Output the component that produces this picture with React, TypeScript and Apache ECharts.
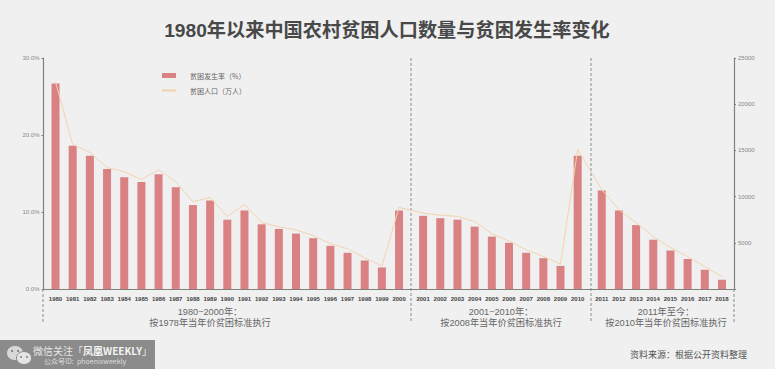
import React, { useEffect, useRef } from "react";
import * as echarts from "echarts";

const years = [
  "1980","1981","1982","1983","1984","1985","1986","1987","1988","1989","1990",
  "1991","1992","1993","1994","1995","1996","1997","1998","1999","2000",
  "2001","2002","2003","2004","2005","2006","2007","2008","2009","2010",
  "2011","2012","2013","2014","2015","2016","2017","2018",
];
const rate = [
  26.7,18.6,17.3,15.6,14.5,13.9,14.9,13.2,10.9,11.5,9.0,
  10.2,8.4,7.8,7.2,6.6,5.6,4.7,3.7,2.8,10.2,
  9.5,9.2,9.0,8.1,6.8,6.0,4.7,4.0,3.0,17.3,
  12.8,10.2,8.3,6.4,5.0,3.9,2.5,1.2,
];
const people = [
  22400,15650,14780,13150,12700,11850,12900,11600,9450,9900,7850,
  9150,7200,6730,6400,5800,4900,4350,3370,2500,8830,
  8200,8000,7850,7300,5980,5200,4250,3520,2700,15100,
  10760,8590,7170,5680,4490,3510,2420,1340,
];
const rateName = "贫困发生率（%）";
const peopleName = "贫困人口（万人）";
const titleText = "1980年以来中国农村贫困人口数量与贫困发生率变化";
const periods = [
  { a: "1980−2000年：", b: "按1978年当年价贫困标准执行", x: 210 },
  { a: "2001−2010年：", b: "按2008年当年价贫困标准执行", x: 501 },
  { a: "2011年至今：", b: "按2010年当年价贫困标准执行", x: 666 },
];

// The axis is divided into fine slots so the two period breaks get a wider step.
const slotsPerYear = 5;
const slotsAtBreak = 7;
const edgeSlots = 3;
const slotOf = years.map((_, i) => {
  const extra = (i > 20 ? 1 : 0) + (i > 30 ? 1 : 0);
  return edgeSlots + i * slotsPerYear + extra * (slotsAtBreak - slotsPerYear);
});
const slotCount = slotOf[slotOf.length - 1] + edgeSlots + 1;
function spread(values: (string | number)[], empty: any) {
  const out = new Array(slotCount).fill(empty);
  values.forEach((v, i) => (out[slotOf[i]] = v));
  return out;
}

const L = 43.5, R = 734, T = 58, B = 289;
const dash = (x: number, y1: number, y2: number) => ({
  type: "line",
  silent: true,
  shape: { x1: x, y1, x2: x, y2 },
  style: { stroke: "#8c8c8c", lineWidth: 1, lineDash: [3, 2] },
});

export default function App() {
  const ref = useRef<HTMLDivElement>(null);
  useEffect(() => {
    document.body.style.margin = "0";
    const chart = echarts.init(ref.current!, undefined, { renderer: "svg" });
    const cjk = '"Noto Sans CJK SC", sans-serif';
    const mixed = '"Liberation Sans", "Noto Sans CJK SC", sans-serif';
    chart.setOption({
      animation: false,
      backgroundColor: "#f0f0f0",
      grid: { left: L, right: 775 - R, top: T, bottom: 369 - B },
      legend: {
        orient: "vertical",
        left: 161,
        top: 72,
        padding: 0,
        itemWidth: 14,
        itemHeight: 5,
        itemGap: 8,
        textStyle: { fontSize: 7, color: "#666", fontFamily: cjk, padding: [0, 0, 0, 9] },
        data: [
          { name: rateName, icon: "rect" },
          { name: peopleName, itemStyle: { opacity: 0 } },
        ],
      },
      xAxis: {
        type: "category",
        data: spread(years, ""),
        axisTick: { show: false },
        axisLine: { lineStyle: { color: "#808080", width: 1 } },
        axisLabel: {
          interval: 0,
          margin: 7,
          fontSize: 6,
          fontWeight: "bold",
          color: "#444",
          fontFamily: "Liberation Sans",
        },
      },
      yAxis: [
        {
          type: "value",
          min: 0,
          max: 30,
          interval: 10,
          splitLine: { show: false },
          axisLine: { show: true, lineStyle: { color: "#808080", width: 1.2 } },
          axisTick: { show: true, length: 2, lineStyle: { color: "#808080" } },
          axisLabel: {
            margin: 4,
            fontSize: 6,
            color: "#888",
            fontFamily: "Liberation Sans",
            formatter: (v: number) => v.toFixed(1) + "%",
          },
        },
        {
          type: "value",
          min: 0,
          max: 25000,
          interval: 5000,
          splitLine: { show: false },
          axisLine: { show: true, lineStyle: { color: "#808080", width: 1.2 } },
          axisTick: { show: true, length: 2, lineStyle: { color: "#808080" } },
          axisLabel: {
            margin: 4,
            fontSize: 6,
            color: "#888",
            fontFamily: "Liberation Sans",
            formatter: (v: number) => (v === 0 ? "" : String(v)),
          },
        },
      ],
      series: [
        {
          name: rateName,
          type: "bar",
          barWidth: 8,
          itemStyle: { color: "#d98183" },
          data: spread(rate, null),
        },
        {
          name: peopleName,
          type: "line",
          yAxisIndex: 1,
          connectNulls: true,
          symbol: "none",
          lineStyle: { color: "#f1d3ad", width: 1 },
          itemStyle: { color: "#f1d3ad" },
          data: spread(people, null),
        },
      ],
      graphic: [
        {
          type: "text",
          x: 387,
          y: 30,
          style: {
            text: titleText,
            fontSize: 19.2,
            fontWeight: "bold",
            fontFamily: mixed,
            fill: "#484848",
            textAlign: "center",
            textVerticalAlign: "middle",
          },
        },
        dash(43, B, 323),
        dash(411, T, 323),
        dash(591, T, 323),
        dash(R, B, 323),
        ...periods.flatMap((p) => [
          {
            type: "text",
            x: p.x,
            y: 312,
            style: { text: p.a, fontSize: 9.2, fontFamily: mixed, fill: "#666", textAlign: "center", textVerticalAlign: "middle" },
          },
          {
            type: "text",
            x: p.x,
            y: 322.8,
            style: { text: p.b, fontSize: 9.2, fontFamily: mixed, fill: "#666", textAlign: "center", textVerticalAlign: "middle" },
          },
        ]),
        {
          type: "text",
          x: 747,
          y: 354,
          style: { text: "资料来源：根据公开资料整理", fontSize: 9, fontFamily: cjk, fill: "#555", textAlign: "right", textVerticalAlign: "middle" },
        },
        { type: "rect", shape: { x: 0, y: 340, width: 155, height: 29 }, style: { fill: "#8b8b8b" } },
        { type: "ellipse", shape: { cx: 15, cy: 353, rx: 8.5, ry: 7.5 }, style: { fill: "#d8d8d8", stroke: "#8b8b8b" } },
        { type: "ellipse", shape: { cx: 24, cy: 358, rx: 7.5, ry: 6.5 }, style: { fill: "#e4e4e4", stroke: "#8b8b8b" } },
        { type: "circle", shape: { cx: 12, cy: 351, r: 1 }, style: { fill: "#777" } },
        { type: "circle", shape: { cx: 18, cy: 351, r: 1 }, style: { fill: "#777" } },
        { type: "circle", shape: { cx: 21, cy: 357, r: 0.9 }, style: { fill: "#777" } },
        { type: "circle", shape: { cx: 27, cy: 357, r: 0.9 }, style: { fill: "#777" } },
        {
          type: "text",
          x: 33,
          y: 350,
          style: {
            text: "微信关注「{b|凤凰WEEKLY}」",
            fontSize: 10,
            fontFamily: cjk,
            fill: "#e6e6e6",
            textVerticalAlign: "middle",
            rich: { b: { fontSize: 10, fontWeight: "bold", fontFamily: cjk, fill: "#f4f4f4" } },
          },
        },
        {
          type: "text",
          x: 44,
          y: 361,
          style: { text: "公众号ID:  phoenixweekly", fontSize: 7, fontFamily: cjk, fill: "#dedede", textVerticalAlign: "middle" },
        },
      ],
    });
    return () => chart.dispose();
  }, []);
  return <div ref={ref} style={{ position: "absolute", left: 0, top: 0, width: 775, height: 369 }} />;
}
